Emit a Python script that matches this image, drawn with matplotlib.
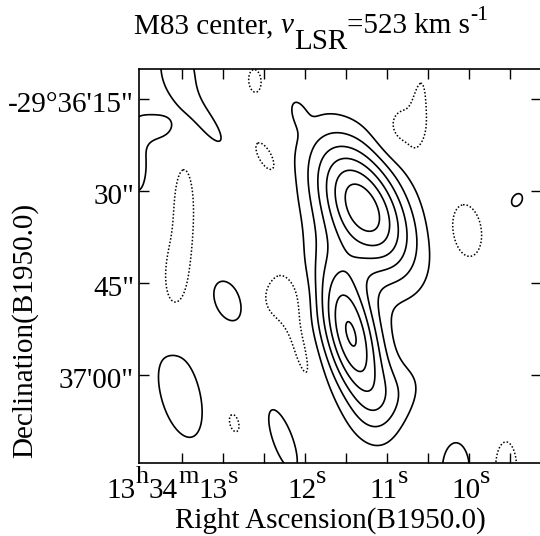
import re
import numpy as np
import matplotlib
matplotlib.use("Agg")
import matplotlib.pyplot as plt
from matplotlib.transforms import IdentityTransform, offset_copy

plt.rcParams['font.family'] = ['Liberation Serif', 'DejaVu Serif']

# axis ranges: RA in seconds after 13h34m, Dec in arcsec after -29d36'
ra_lim = (14.024, 9.122)
dec_lim = (74.35, 10.11)
arcsec_per_s = 13.37

ra_ticks = [13.5, 13.0, 12.5, 12.0, 11.5, 11.0, 10.5, 10.0, 9.5]
ra_label_vals = [13.0, 12.0, 11.0, 10.0]
ra_label_text = ['13^h34^m13^s', '12^s', '11^s', '10^s']
dec_ticks = [15, 30, 45, 60]
dec_label_text = ['-29\u00b036\'15"', '30"', '45"', '37\'00"']

# emission components (RA s, Dec arcsec, peak, sizes arcsec, tilt deg)
comp_ra = [11.293, 11.439, 10.866, 12.085, 13.549, 13.195, 13.842, 14.037,
           13.524, 12.939, 12.268, 10.159, 9.415]
comp_dec = [32.61, 53.48, 63.26, 17.12, 10.27, 18.91, 19.57, 25.76,
            62.94, 47.94, 70.60, 75.49, 31.47]
comp_amp = [6.7, 6.1, 1.1, 0.9, 1.6, 1.3, 1.6, 1.5,
            1.6, 1.6, 1.6, 1.6, 1.6]
comp_smaj = [8.48, 9.29, 4.89, 1.96, 4.57, 4.89, 2.61, 4.57,
             7.66, 3.51, 5.38, 4.57, 1.14]
comp_smin = [4.57, 3.26, 3.26, 0.98, 2.61, 1.47, 1.79, 1.47,
             3.26, 2.12, 1.63, 2.28, 0.82]
comp_tilt = [28, 15, -40, 20, 10, 36, 90, 0,
             15, 23, 20, 0, -30]

# negative components (dotted contours)
neg_ra = [12.610, 12.476, 13.476, 13.561, 12.280, 12.061, 12.866,
          10.780, 10.610, 10.037, 9.549]
neg_dec = [12.07, 24.46, 31.47, 43.21, 47.45, 55.11, 67.83,
           19.73, 16.47, 36.52, 75.17]
neg_amp = [-1.6, -1.6, -1.6, -1.6, -1.6, -1.5, -1.6,
           -1.6, -1.6, -1.6, -1.6]
neg_smaj = [1.96, 2.93, 4.89, 6.20, 3.10, 6.52, 1.63,
            3.10, 3.91, 4.57, 4.40]
neg_smin = [1.06, 1.22, 1.30, 1.96, 2.77, 1.30, 0.82,
            2.77, 0.82, 2.61, 1.79]
neg_tilt = [5, 30, 0, -5, 0, 15, 15, 0, -5, 8, 0]

pos_levels = [1, 2, 3, 4, 5, 6]
neg_levels = [-1]

ra = np.linspace(14.3, 8.9, 700)
dec = np.linspace(7.0, 78.0, 700)
RA, DEC = np.meshgrid(ra, dec)


def add_gauss(field, r0, d0, amp, smaj, smin, tilt):
    dx = (r0 - RA) * arcsec_per_s
    dy = DEC - d0
    t = np.radians(tilt)
    u = dx * np.sin(t) + dy * np.cos(t)
    v = dx * np.cos(t) - dy * np.sin(t)
    return field + amp * np.exp(-0.5 * ((u / smaj) ** 2 + (v / smin) ** 2))


Z = np.zeros_like(RA)
for p in zip(comp_ra, comp_dec, comp_amp, comp_smaj, comp_smin, comp_tilt):
    Z = add_gauss(Z, *p)
for p in zip(neg_ra, neg_dec, neg_amp, neg_smaj, neg_smin, neg_tilt):
    Z = add_gauss(Z, *p)

W, H = 540, 536
fig = plt.figure(figsize=(W / 100, H / 100), dpi=100)
ax = fig.add_axes([139 / W, (H - 463) / H, (541 - 139) / W, (463 - 69) / H])

ax.contour(RA, DEC, Z, levels=pos_levels, colors='black', linewidths=1.2)
ax.contour(RA, DEC, Z, levels=neg_levels, colors='black', linewidths=1.1,
           linestyles=[(0, (1, 1.3))])

ax.set_xlim(*ra_lim)
ax.set_ylim(*dec_lim)
ax.set_xticks(ra_ticks)
ax.set_yticks(dec_ticks)
ax.tick_params(direction='in', length=7.5, width=1.0, top=True, right=True,
               labelbottom=False, labelleft=False)
for s in ax.spines.values():
    s.set_linewidth(1.2)

renderer = fig.canvas.get_renderer()


def rich(x, y, pieces, size, ha='center'):
    # pieces: (text, scale, rise in em, style, gap in em before)
    px_per_pt = fig.dpi / 72
    arts = []
    cur = 0.0
    for s, scale, rise, style, gap in pieces:
        cur += gap * size * px_per_pt
        t = fig.text(0, 0, s, transform=IdentityTransform(), fontsize=size * scale,
                     fontstyle=style, ha='left', va='baseline')
        arts.append((t, cur, rise * size * px_per_pt))
        cur += t.get_window_extent(renderer).width
    x0 = x - {'left': 0, 'center': cur / 2, 'right': cur}[ha]
    for t, off, dy in arts:
        t.set_position((x0 + off, y + dy))


def sup_pieces(label):
    parts = re.split(r'\^(\w)', label)
    out = []
    for i, p in enumerate(parts):
        if not p:
            continue
        if i % 2:
            out.append((p, 0.9, 0.52, 'normal', 0.0))
        else:
            out.append((p, 1.0, 0.0, 'normal', 0.0))
    return out


tick_size = 21
for val, lab in zip(ra_label_vals, ra_label_text):
    xd = ax.transData.transform((val, dec_lim[0]))[0]
    if len(lab) > 4:
        rich(xd + 15, H - 498, sup_pieces(lab), tick_size, ha='right')
    else:
        rich(xd + 2, H - 498, sup_pieces(lab), tick_size, ha='center')

ytrans = offset_copy(ax.get_yaxis_transform(), fig=fig, x=-5, y=-13.5, units='dots')
for val, lab in zip(dec_ticks, dec_label_text):
    ax.text(0, val, lab, transform=ytrans, ha='right', va='baseline', fontsize=tick_size)

label_size = 21
title = [('M83 center,', 1, 0, 'normal', 0), ('v', 1, 0, 'italic', 0.25),
         ('LSR', 1, -0.55, 'normal', 0), ('=523 km s', 1, 0, 'normal', 0),
         ('-1', 0.75, 0.45, 'normal', 0.02)]
rich(311.5, H - 33, title, label_size, ha='center')

fig.text(25 / W, 1 - 330 / H, 'Declination(B1950.0)', rotation=90,
         ha='center', va='center', fontsize=label_size)
fig.text(330 / W, 8 / H, 'Right Ascension(B1950.0)', ha='center',
         va='baseline', fontsize=label_size)

fig.savefig('out.png', dpi=100)
